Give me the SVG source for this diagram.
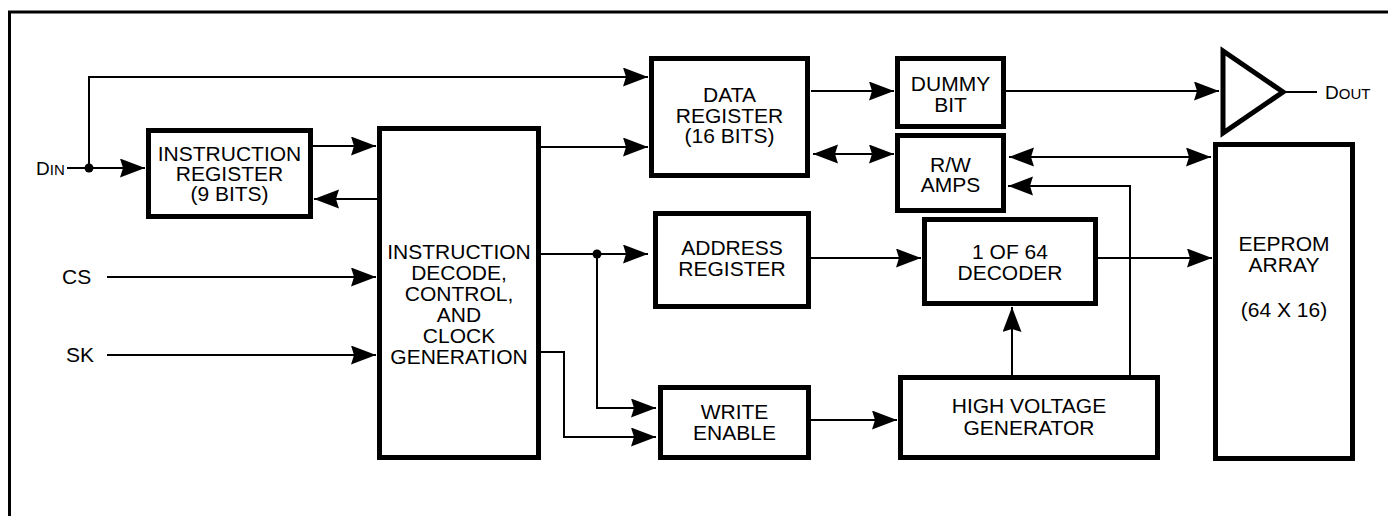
<svg xmlns="http://www.w3.org/2000/svg" width="1388" height="516" viewBox="0 0 1388 516">
<style>
.box{fill:#fff;stroke:#000;stroke-width:5}
.wire{fill:none;stroke:#000;stroke-width:2}
.arr{marker-end:url(#ah)}
.dbl{marker-start:url(#ah);marker-end:url(#ah)}
text{font-family:"Liberation Sans",Arial,Helvetica,sans-serif;font-size:21px;fill:#000}
.c{text-anchor:middle}
</style>
<defs>
<marker id="ah" markerUnits="userSpaceOnUse" markerWidth="26" markerHeight="20" refX="25" refY="9.5" orient="auto-start-reverse">
<path d="M0,0 L25,9.5 L0,19 L3,9.5 z" fill="#000"/>
</marker>
</defs>
<rect width="1388" height="516" fill="#fff"/>
<path d="M9.5,516 V12 H1388" fill="none" stroke="#000" stroke-width="3"/>

<g id="connectors">
<path class="wire arr" d="M67,168 H145"/>
<path class="wire arr" d="M89,168 V77 H648"/>
<path class="wire arr" d="M313,146 H376"/>
<path class="wire arr" d="M377,199 H314"/>
<path class="wire arr" d="M107,277 H376"/>
<path class="wire arr" d="M107,355 H376"/>
<path class="wire arr" d="M541,147 H648"/>
<path class="wire arr" d="M541,254 H648"/>
<path class="wire arr" d="M597,254 V408 H656"/>
<path class="wire arr" d="M541,352 H564 V437 H656"/>
<path class="wire arr" d="M811,91 H894"/>
<path class="wire dbl" d="M813,154 H894"/>
<path class="wire arr" d="M1006,91 H1219"/>
<path class="wire dbl" d="M1009,157 H1211"/>
<path class="wire arr" d="M1130,375 V186 H1008"/>
<path class="wire arr" d="M811,258 H921"/>
<path class="wire arr" d="M1098,258 H1212"/>
<path class="wire arr" d="M1012,375 V307"/>
<path class="wire arr" d="M811,420 H897"/>
<path class="wire" d="M1284,92 H1317"/>
<circle cx="89" cy="168" r="4.5" fill="#000"/>
<circle cx="597" cy="254" r="4.5" fill="#000"/>
</g>

<g id="din">
<text x="36" y="175"><tspan font-size="19">D</tspan><tspan font-size="15">IN</tspan></text>
</g>
<g id="cs"><text x="62" y="284">CS</text></g>
<g id="sk"><text x="66" y="362">SK</text></g>
<g id="dout">
<text x="1325" y="99"><tspan font-size="19">D</tspan><tspan font-size="15">OUT</tspan></text>
</g>

<g id="instruction-register">
<rect class="box" x="148.5" y="130.5" width="162" height="86"/>
<text class="c" x="229.5" y="161">INSTRUCTION</text>
<text class="c" x="229.5" y="181">REGISTER</text>
<text class="c" x="229.5" y="201">(9 BITS)</text>
</g>

<g id="instruction-decode">
<rect class="box" x="379.5" y="128.5" width="159" height="329"/>
<text class="c" x="459" y="259">INSTRUCTION</text>
<text class="c" x="459" y="280">DECODE,</text>
<text class="c" x="459" y="301">CONTROL,</text>
<text class="c" x="459" y="322">AND</text>
<text class="c" x="459" y="343">CLOCK</text>
<text class="c" x="459" y="364">GENERATION</text>
</g>

<g id="data-register">
<rect class="box" x="651.5" y="58.5" width="156" height="117"/>
<text class="c" x="729.5" y="102">DATA</text>
<text class="c" x="729.5" y="123">REGISTER</text>
<text class="c" x="729.5" y="143">(16 BITS)</text>
</g>

<g id="dummy-bit">
<rect class="box" x="897.5" y="58.5" width="106" height="68"/>
<text class="c" x="950.5" y="91">DUMMY</text>
<text class="c" x="950.5" y="112">BIT</text>
</g>

<g id="rw-amps">
<rect class="box" x="897.5" y="135.5" width="106" height="75"/>
<text class="c" x="950.5" y="172">R/W</text>
<text class="c" x="950.5" y="192">AMPS</text>
</g>

<g id="output-buffer">
<polygon points="1223,51 1223,133 1283,92" fill="#fff" stroke="#000" stroke-width="5" stroke-linejoin="miter"/>
</g>

<g id="address-register">
<rect class="box" x="655.5" y="213.5" width="153" height="93"/>
<text class="c" x="732" y="255">ADDRESS</text>
<text class="c" x="732" y="276">REGISTER</text>
</g>

<g id="decoder">
<rect class="box" x="924.5" y="219.5" width="171" height="84"/>
<text class="c" x="1010" y="259">1 OF 64</text>
<text class="c" x="1010" y="280">DECODER</text>
</g>

<g id="eeprom-array">
<rect class="box" x="1215.5" y="144.5" width="137" height="314"/>
<text class="c" x="1284" y="251">EEPROM</text>
<text class="c" x="1284" y="272">ARRAY</text>
<text class="c" x="1284" y="317">(64 X 16)</text>
</g>

<g id="write-enable">
<rect class="box" x="660.5" y="387.5" width="148" height="70"/>
<text class="c" x="734.5" y="419">WRITE</text>
<text class="c" x="734.5" y="440">ENABLE</text>
</g>

<g id="high-voltage-generator">
<rect class="box" x="900.5" y="377.5" width="257" height="80"/>
<text class="c" x="1029" y="413">HIGH VOLTAGE</text>
<text class="c" x="1029" y="435">GENERATOR</text>
</g>
</svg>
